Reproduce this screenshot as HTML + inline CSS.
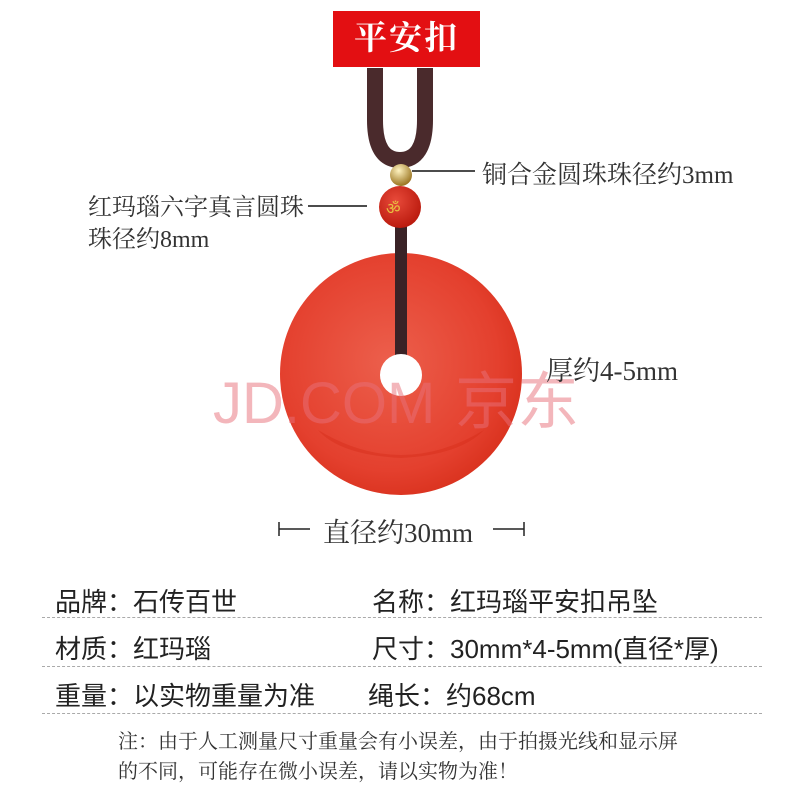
<!DOCTYPE html>
<html><head><meta charset="utf-8"><style>
body{margin:0;width:800px;height:800px;background:#fff;position:relative;overflow:hidden;font-family:"Liberation Serif","Noto Serif CJK SC",serif;color:#333}
.a{position:absolute;white-space:nowrap}
.s{font-family:"Liberation Sans","Noto Sans CJK SC",sans-serif;font-size:26px;color:#222}
.d{position:absolute;left:42px;width:720px;border-top:1px dashed #aaa}
</style></head><body>
<svg class="a" style="left:0;top:0" width="800" height="560">
<defs>
<radialGradient id="g" cx="0.45" cy="0.45" r="0.6"><stop offset="0" stop-color="#ec5f4c"/><stop offset="0.75" stop-color="#e4402e"/><stop offset="1" stop-color="#d8301c"/></radialGradient>
<radialGradient id="b" cx="0.4" cy="0.35" r="0.7"><stop offset="0" stop-color="#e84a3a"/><stop offset="1" stop-color="#b8180c"/></radialGradient>
<radialGradient id="au" cx="0.4" cy="0.3" r="0.7"><stop offset="0" stop-color="#fff3c0"/><stop offset="1" stop-color="#9a7420"/></radialGradient>
</defs>
<path d="M375 68 L375 120 Q375 160 400 160 Q425 160 425 120 L425 68" fill="none" stroke="#4a2a2c" stroke-width="16"/>
<circle cx="401" cy="374" r="121" fill="url(#g)"/>
<path d="M318 430 Q401 480 484 430 Q460 455 401 458 Q340 455 318 430Z" fill="#d42a16" opacity="0.4"/>
<rect x="395" y="225" width="12" height="135" fill="#3a2226"/>
<circle cx="401" cy="375" r="21" fill="#fff"/>
<circle cx="400" cy="207" r="21" fill="url(#b)"/>
<text x="386" y="214" font-size="16" fill="#e8c040">ॐ</text>
<circle cx="401" cy="175" r="11" fill="url(#au)"/>
<line x1="412" y1="171" x2="475" y2="171" stroke="#111" stroke-width="1.5"/>
<line x1="308" y1="206" x2="367" y2="206" stroke="#111" stroke-width="1.5"/>
<text x="213" y="423" font-family="Liberation Sans,sans-serif" font-size="58" fill="#e8707a" opacity="0.5">JD.COM</text>
<text x="455" y="423" font-family="Noto Sans CJK SC,sans-serif" font-size="62" fill="#e8707a" opacity="0.5">京东</text>
<line x1="279" y1="522" x2="279" y2="536" stroke="#222" stroke-width="1.5"/>
<line x1="279" y1="529" x2="310" y2="529" stroke="#222" stroke-width="1.5"/>
<line x1="493" y1="529" x2="524" y2="529" stroke="#222" stroke-width="1.5"/>
<line x1="524" y1="522" x2="524" y2="536" stroke="#222" stroke-width="1.5"/>
</svg>
<div class="a" style="left:333px;top:11px;width:147px;height:56px;background:#e30f12;color:#fff;font-size:33px;font-weight:bold;line-height:56px;text-align:center;letter-spacing:2px">平安扣</div>
<div class="a" style="left:482px;top:155px;font-size:25px">铜合金圆珠珠径约3mm</div>
<div class="a" style="left:88px;top:192px;font-size:24px;line-height:32px">红玛瑙六字真言圆珠<br>珠径约8mm</div>
<div class="a" style="left:546px;top:349px;font-size:27px">厚约4-5mm</div>
<div class="a" style="left:323px;top:511px;font-size:27px">直径约30mm</div>
<div class="a s" style="left:55px;top:582px">品牌：石传百世</div>
<div class="a s" style="left:372px;top:582px">名称：红玛瑙平安扣吊坠</div>
<div class="d" style="top:617px"></div>
<div class="a s" style="left:55px;top:629px">材质：红玛瑙</div>
<div class="a s" style="left:372px;top:629px">尺寸：30mm*4-5mm(直径*厚)</div>
<div class="d" style="top:666px"></div>
<div class="a s" style="left:55px;top:676px">重量：以实物重量为准</div>
<div class="a s" style="left:368px;top:676px">绳长：约68cm</div>
<div class="d" style="top:713px"></div>
<div class="a" style="left:118px;top:727px;font-size:20px;line-height:30px;color:#333">注：由于人工测量尺寸重量会有小误差，由于拍摄光线和显示屏<br>的不同，可能存在微小误差，请以实物为准！</div>
</body></html>
